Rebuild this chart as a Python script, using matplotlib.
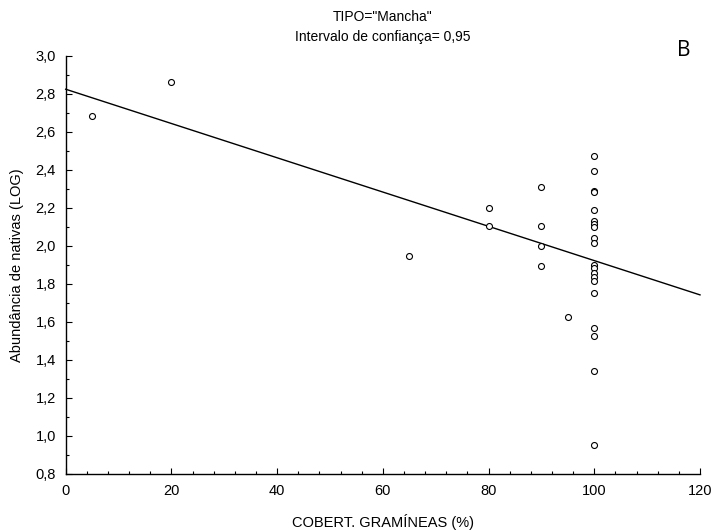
import numpy as np
import matplotlib
matplotlib.use('Agg')
import matplotlib.pyplot as plt
from matplotlib.ticker import MultipleLocator

# cobertura de gramineas (%) e abundancia de nativas (LOG)
cobert = [5, 20, 65, 80, 80, 90, 90, 90, 90, 95,
          100, 100, 100, 100, 100, 100, 100, 100, 100, 100,
          100, 100, 100, 100, 100, 100, 100, 100, 100, 100]
abund = [2.684, 2.862, 1.947, 2.200, 2.107, 2.310, 2.105, 1.998, 1.896, 1.628,
         2.474, 2.395, 2.290, 2.282, 2.188, 2.132, 2.114, 2.098, 2.041, 2.017,
         1.900, 1.883, 1.859, 1.838, 1.816, 1.751, 1.567, 1.526, 1.344, 0.953]

# reta de regressao
intercept = 2.825
slope = -0.00902

plt.rcParams['font.family'] = ['Liberation Sans', 'DejaVu Sans']

fig = plt.figure(figsize=(7.17, 5.30), dpi=100)
ax = fig.add_axes([0.0916, 0.1057, 0.8847, 0.7887])

xl = np.array([0, 120])
ax.plot(xl, intercept + slope * xl, color='black', lw=1.0, clip_on=False)
ax.plot(cobert, abund, 'o', mfc='white', mec='black', ms=4.3, mew=0.8, clip_on=False)

ax.set_xlim(0, 120)
ax.set_ylim(0.8, 3.0)
ax.xaxis.set_major_locator(MultipleLocator(20))
ax.xaxis.set_minor_locator(MultipleLocator(4))
ax.yaxis.set_major_locator(MultipleLocator(0.2))
ax.yaxis.set_minor_locator(MultipleLocator(0.1))
ax.yaxis.set_major_formatter(plt.FuncFormatter(lambda v, p: ('%.1f' % v).replace('.', ',')))

for s in ['top', 'right']:
    ax.spines[s].set_visible(False)
ax.spines['left'].set_linewidth(1.0)
ax.spines['bottom'].set_linewidth(1.0)
ax.tick_params(which='both', direction='in', labelsize=10.5, width=0.8)
ax.tick_params(which='major', length=4)
ax.tick_params(which='minor', length=2.5)
ax.tick_params(axis='x', pad=7)
ax.tick_params(axis='y', pad=7)

ax.set_xlabel('COBERT. GRAMÍNEAS (%)', fontsize=10.5, labelpad=12)
ax.set_ylabel('Abundância de nativas (LOG)', fontsize=10.5, labelpad=8)
ax.set_title('TIPO="Mancha"\nIntervalo de confiança= 0,95', fontsize=10, pad=11, linespacing=1.5)
fig.text(0.953, 0.905, 'B', fontsize=15, family=['Open Sans', 'DejaVu Sans'], ha='center', va='center')

fig.savefig('out.png', dpi=100)
